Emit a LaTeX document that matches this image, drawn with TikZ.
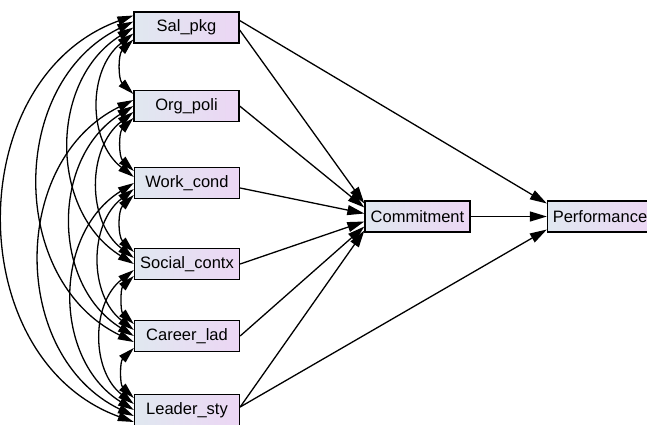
\documentclass[tikz,border=0pt]{standalone}
\usepackage{fontspec}
\setmainfont{Liberation Sans}
\usetikzlibrary{arrows.meta}
\definecolor{boxleft}{RGB}{224,232,240}
\definecolor{boxright}{RGB}{236,214,244}

\begin{document}
\begin{tikzpicture}[
  x=1pt, y=-1pt,
  every node/.style={draw, line width=1.3pt, minimum width=105pt, minimum height=31pt, inner sep=2pt, font=\fontsize{16.5}{19}\selectfont, left color=boxleft, right color=boxright},
  arrow/.style={-{Triangle[length=17pt,width=10pt]}, line width=1.3pt},
  cov/.style={{Triangle[length=16pt,width=9pt]}-{Triangle[length=16pt,width=9pt]}, line width=1.3pt}
]
\useasboundingbox (0,0) rectangle (647,424);

% exogenous variables
\node (sal) at (186.5,27.5) {Sal\_pkg};
\node (org) at (186.5,106) {Org\_poli};
\node (work) at (187,183) {Work\_cond};
\node (social) at (187,264) {Social\_contx};
\node (career) at (187,336) {Career\_lad};
\node (leader) at (187,410) {Leader\_sty};

\node (commit) at (417.5,216.5) {Commitment};
\node (perf) at (600,216.5) {Performance};

% covariances
\foreach \i/\a in {1/sal,2/org,3/work,4/social,5/career,6/leader}
  \foreach \j/\b in {1/sal,2/org,3/work,4/social,5/career,6/leader} {
    \ifnum\j>\i
      \pgfmathsetmacro\k{\j-\i}
      \pgfmathsetmacro\up{-12+(\k-1)*6}
      \pgfmathsetmacro\dn{12-(\k-1)*6}
      \pgfmathsetmacro\bend{40+6*\k}
      \pgfmathsetmacro\loose{1+0.04*(\k-1)}
      \draw[cov] ([yshift=\up pt]\a.west) to[bend right=\bend, looseness=\loose] ([yshift=\dn pt]\b.west);
    \fi
  }

% paths
\draw[arrow] ([yshift=-2.5pt]sal.east) -- ([yshift=13pt]commit.west);
\draw[arrow] ([yshift=7pt]sal.east) -- ([yshift=13pt]perf.west);
\draw[arrow] (org.east) -- ([yshift=9pt]commit.west);
\draw[arrow] ([yshift=-5pt]work.east) -- ([yshift=3pt]commit.west);
\draw[arrow] (social.east) -- ([yshift=-5pt]commit.west);
\draw[arrow] (career.east) -- ([yshift=-10pt]commit.west);
\draw[arrow] ([yshift=3pt]leader.east) -- ([yshift=-14pt]commit.west);
\draw[arrow] ([yshift=3pt]leader.east) -- ([yshift=-13pt]perf.west);
\draw[arrow] (commit) -- (perf);

\end{tikzpicture}
\end{document}
